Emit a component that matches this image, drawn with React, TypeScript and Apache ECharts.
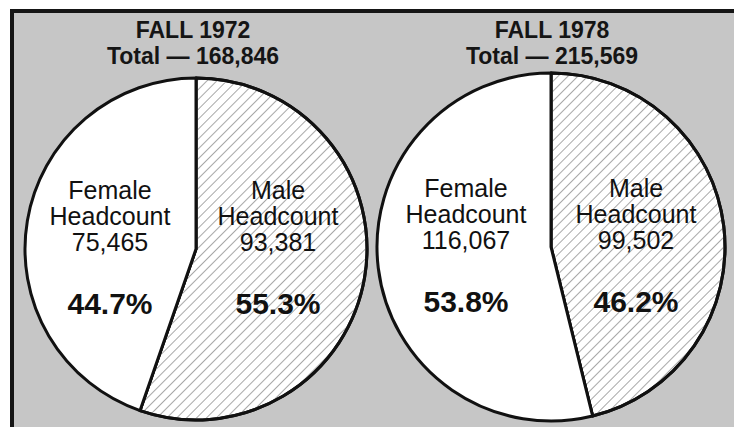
import React, { useEffect, useRef } from "react";
import * as echarts from "echarts";

const years = ["FALL 1972", "FALL 1978"];
const categories = ["Male", "Female"];
const maleHeadcount = [93381, 99502];
const femaleHeadcount = [75465, 116067];

const W = 734;
const H = 427;

export default function App() {
  const ref = useRef<HTMLDivElement>(null);

  useEffect(() => {
    if (!ref.current) return;
    const chart = echarts.init(ref.current, null, { renderer: "svg" });

    const centers = [
      [196, 249],
      [551, 247],
    ];
    const radii = [171, 174];
    const labelDx = [
      [82, -86],
      [85, -85],
    ];
    const font = "'Liberation Sans', Arial, Helvetica, sans-serif";

    const fmt = (n: number) => n.toLocaleString("en-US");

    const series = years.map((y, i) => {
      const vals = [maleHeadcount[i], femaleHeadcount[i]];
      const total = vals[0] + vals[1];
      return {
        type: "pie",
        silent: true,
        center: centers[i],
        radius: radii[i],
        startAngle: 90,
        clockwise: true,
        emphasis: { disabled: true },
        labelLine: { show: false },
        label: {
          show: true,
          position: "inside",
          align: "center",
          verticalAlign: "middle",
          fontFamily: font,
          color: "#111",
          formatter: (p: any) => {
            const pct = ((p.value / total) * 100).toFixed(1) + "%";
            return [
              `{a|${p.name}}`,
              `{a|Headcount}`,
              `{a|${fmt(p.value)}}`,
              `{s| }`,
              `{p|${pct}}`,
            ].join("\n");
          },
          rich: {
            a: { fontSize: 25, lineHeight: 26, fontFamily: font, color: "#111" },
            s: { fontSize: 10, lineHeight: 26 },
            p: {
              fontSize: 30,
              lineHeight: 44,
              fontWeight: "bold",
              fontFamily: font,
              color: "#111",
            },
          },
        },
        labelLayout: (params: any) => ({
          x: centers[i][0] + labelDx[i][params.dataIndex],
          y: centers[i][1] + 2,
          align: "center",
          verticalAlign: "middle",
        }),
        itemStyle: { borderColor: "#111", borderWidth: 3 },
        data: categories.map((c, k) => ({
          name: c,
          value: vals[k],
          itemStyle:
            k === 0
              ? {
                  color: "#ffffff",
                  decal: {
                    symbol: "rect",
                    symbolSize: 1,
                    dashArrayX: [1, 0],
                    dashArrayY: [1, 6],
                    rotation: -Math.PI / 4,
                    color: "rgba(110,110,110,0.6)",
                    backgroundColor: "#ffffff",
                  },
                }
              : { color: "#ffffff" },
        })),
      };
    });

    const titleX = [193, 552];
    const title = years.map((y, i) => ({
      text: `${y}\nTotal — ${fmt(maleHeadcount[i] + femaleHeadcount[i])}`,
      left: titleX[i],
      top: 17,
      padding: 0,
      textAlign: "center",
      textStyle: {
        fontFamily: font,
        fontSize: 23,
        fontWeight: "bold",
        lineHeight: 26,
        color: "#151515",
      },
    }));

    chart.setOption({
      animation: false,
      backgroundColor: "#ffffff",
      title,
      graphic: [
        {
          type: "rect",
          z: -10,
          silent: true,
          shape: { x: 12, y: 11, width: W + 40, height: H + 40 },
          style: { fill: "#c6c6c6", stroke: "#151515", lineWidth: 4 },
        },
      ],
      series,
    } as any);

    return () => chart.dispose();
  }, []);

  return (
    <div
      ref={ref}
      style={{ position: "absolute", left: 0, top: 0, width: W, height: H }}
    />
  );
}
